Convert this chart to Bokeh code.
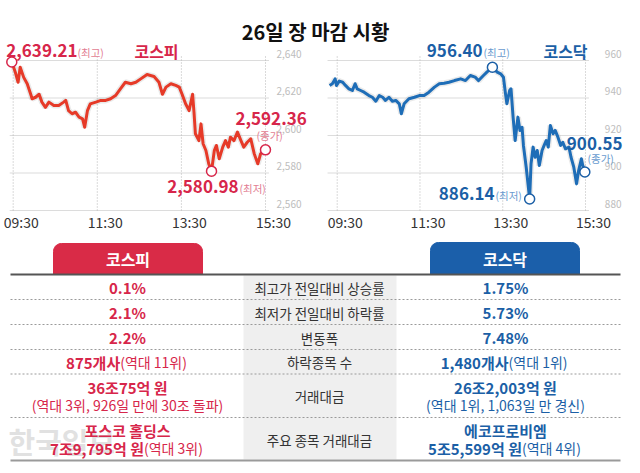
import numpy as np
from bokeh.plotting import figure
from bokeh.models import Range1d
from bokeh.core.properties import value
from bokeh.embed import file_html
from bokeh.resources import INLINE

FONT = "Noto Sans CJK KR"

# ---------------- data ----------------
title_text = "26일 장 마감 시황"
time_ticks = [570, 690, 810, 930]          # minutes after midnight
time_tick_labels = ["09:30", "11:30", "13:30", "15:30"]

kospi_name = "코스피"
kospi_t = [568, 573, 577, 580, 585, 590, 595, 597, 602, 607, 611, 616, 621, 628, 635, 642, 645, 649,
           654, 659, 664, 669, 672, 676, 680, 688, 695, 702, 709, 716, 723, 730, 738, 745, 752, 759,
           761, 771, 778, 783, 788, 795, 802, 807, 811, 816, 821, 826, 828, 830, 835, 838, 841, 845,
           849, 853, 857, 860, 864, 869, 873, 877, 880, 885, 890, 895, 899, 904, 909, 914, 919, 923, 930]
kospi_v = [2639.21, 2633.8, 2628.4, 2636.4, 2631.0, 2627.6, 2622.0, 2619.6, 2620.4, 2622.0, 2617.8,
           2615.0, 2617.8, 2616.0, 2616.0, 2617.8, 2618.7, 2613.3, 2611.6, 2612.4, 2609.8, 2608.9,
           2604.4, 2613.3, 2616.9, 2617.8, 2618.7, 2618.7, 2619.6, 2621.3, 2624.9, 2628.4, 2627.6,
           2628.4, 2630.2, 2632.0, 2632.5, 2631.5, 2628.4, 2622.0, 2625.8, 2627.6, 2626.7, 2625.8,
           2622.0, 2616.9, 2613.3, 2622.0, 2612.4, 2600.9, 2597.3, 2606.2, 2595.6, 2592.0, 2584.9,
           2580.98, 2592.0, 2594.7, 2587.6, 2593.8, 2597.3, 2593.8, 2599.1, 2597.3, 2601.8, 2597.3,
           2593.8, 2596.4, 2598.2, 2590.2, 2584.9, 2590.2, 2592.36]
kospi_yticks = [2560, 2580, 2600, 2620, 2640]

kosdaq_name = "코스닥"
kosdaq_t = [559, 563, 567, 569, 573, 578, 582, 587, 592, 596, 599, 604, 609, 616, 621, 626, 631, 636,
            640, 645, 650, 655, 660, 663, 667, 674, 682, 689, 696, 703, 711, 718, 725, 732, 740, 749,
            756, 763, 770, 775, 782, 787, 795, 802, 807, 811, 814, 816, 820, 822, 825, 828, 832, 835,
            838, 840, 844, 849, 851, 854, 857, 860, 863, 867, 870, 873, 876, 879, 883, 886, 890, 894,
            897, 901, 906, 909, 913, 917, 920, 924, 926, 929]
kosdaq_v = [946.7, 947.6, 950.2, 946.7, 949.0, 948.4, 946.7, 944.9, 944.0, 947.6, 944.9, 944.0, 943.1,
            941.3, 940.4, 938.3, 941.3, 940.4, 938.7, 940.4, 938.3, 938.7, 936.9, 931.6, 936.9, 939.6,
            940.4, 941.3, 941.3, 943.1, 945.8, 947.6, 947.9, 948.4, 949.3, 950.2, 949.3, 952.0, 951.1,
            949.3, 952.0, 953.8, 956.40, 953.8, 952.9, 951.1, 942.2, 936.9, 944.0, 944.9, 929.8, 917.3,
            929.8, 922.7, 924.4, 914.7, 903.1, 886.14, 904.9, 913.8, 908.4, 912.0, 904.0, 912.0, 914.7,
            917.3, 913.8, 925.3, 920.9, 922.7, 919.1, 914.7, 916.4, 912.9, 913.8, 908.4, 903.1, 894.2,
            901.3, 907.6, 904.0, 900.55]
kosdaq_yticks = [880, 900, 920, 940, 960]

mark_suffix = ["(최고)", "(최저)", "(종가)"]

row_labels = ["최고가 전일대비 상승률", "최저가 전일대비 하락률", "변동폭", "하락종목 수",
              "거래대금", "주요 종목 거래대금"]
kospi_rows = [
    [("0.1%", "")],
    [("2.1%", "")],
    [("2.2%", "")],
    [("875개사", "(역대 11위)")],
    [("36조75억 원", ""), ("", "(역대 3위, 926일 만에 30조 돌파)")],
    [("포스코 홀딩스", ""), ("7조9,795억 원", "(역대 3위)")],
]
kosdaq_rows = [
    [("1.75%", "")],
    [("5.73%", "")],
    [("7.48%", "")],
    [("1,480개사", "(역대 1위)")],
    [("26조2,003억 원", ""), ("", "(역대 1위, 1,063일 만 경신)")],
    [("에코프로비엠", ""), ("5조5,599억 원", "(역대 4위)")],
]
watermark = "한국일보"

# ---------------- styles ----------------
KOSPI_LINE = "#e63a28"
KOSPI_LAB = "#d7264a"
KOSPI_SUB = "#e27d92"
KOSPI_TAB = "#d92b47"
KOSDAQ_LINE = "#1e6db7"
KOSDAQ_LAB = "#1b5fa6"
KOSDAQ_SUB = "#6a9bcf"
KOSDAQ_TAB = "#1b5faa"

W, H = 640, 473
CW, CH, CTOP = 320, 195, 42

p = figure(width=W, height=H, x_range=Range1d(0, W), y_range=Range1d(H, 0),
           x_axis_location=None, y_axis_location=None, toolbar_location=None,
           output_backend="svg", min_border=0, min_border_left=0, min_border_right=0,
           min_border_top=0, min_border_bottom=0)
p.grid.visible = False
p.outline_line_color = None
p.background_fill_color = "white"
p.border_fill_color = "white"


def txt(x, y, s, size, color, align="left", bold=False, **kw):
    p.text(x=[x], y=[y], text=[s], text_font=value(FONT), text_font_size=f"{size}px",
           text_color=color, text_align=align, text_baseline="middle",
           text_font_style="bold" if bold else "normal", **kw)


def chart(key, ox, t, v, yticks, name, xr, yr, line_c, lab_c, sub_c, pos):
    x0, x1 = xr
    y0, y1 = yr
    sx = (x1 - x0) / CW
    sy = (y1 - y0) / CH
    xs = x0 - ox * sx
    ytop = y1 + CTOP * sy
    p.extra_x_ranges[key + "_x"] = Range1d(xs, xs + W * sx)
    p.extra_y_ranges[key + "_y"] = Range1d(ytop - H * sy, ytop)
    R = dict(x_range_name=key + "_x", y_range_name=key + "_y")
    X = lambda px: x0 + px * sx
    Y = lambda py: y1 - (py - CTOP) * sy

    def t_(x, y, s, size, color, align="left", bold=False, **kw):
        p.text(x=[x], y=[y], text=[s], text_font=value(FONT), text_font_size=f"{size}px",
               text_color=color, text_align=align, text_baseline="middle",
               text_font_style="bold" if bold else "normal", **R, **kw)

    n = len(yticks)
    step = yticks[1] - yticks[0]
    # horizontal grid lines
    p.segment(x0=[t[0] - 3] * n, y0=yticks, x1=[time_ticks[-1] + 5] * n, y1=yticks,
              line_color="#dcdcdc", line_width=1.2, **R)
    # vertical dotted lines
    p.segment(x0=time_ticks, y0=[yticks[0]] * len(time_ticks), x1=time_ticks,
              y1=[yticks[-1] + step * 0.15] * len(time_ticks),
              line_color="#b5b5b5", line_width=1, line_dash="1 2", **R)
    # y labels
    p.text(x=[time_ticks[-1]] * n, y=yticks, text=[f"{yy:,}" for yy in yticks],
           x_offset=36, y_offset=-7, text_align="right", text_baseline="middle",
           text_font=value(FONT), text_font_size="10px", text_color="#bdbdbd", **R)
    # x labels
    p.text(x=time_ticks, y=[yticks[0]] * len(time_ticks), text=time_tick_labels,
           x_offset=8, y_offset=11, text_align="center", text_baseline="middle",
           text_font=value(FONT), text_font_size="14px", text_color="#333333", **R)
    # line with soft shadow
    p.line(t, v, line_color="#888888", line_alpha=0.18, line_width=6, **R)
    p.line(t, v, line_color=line_c, line_width=3, line_join="round", **R)
    ihi, ilo, icl = int(np.argmax(v)), int(np.argmin(v)), len(v) - 1
    idx = [ihi, ilo, icl]
    p.scatter(x=[t[i] for i in idx], y=[v[i] for i in idx], size=10, fill_color="white",
              line_color=lab_c, line_width=1.5, **R)
    # labels
    for i, suf, (nx, ny, nal, sx_, sy_) in zip(idx, mark_suffix, pos["marks"]):
        t_(X(nx), Y(ny), f"{v[i]:,.2f}", 17, lab_c, align=nal, bold=True)
        t_(X(sx_), Y(sy_), suf, 10.5, sub_c)
    cx, cy = pos["name"]
    t_(X(cx), Y(cy), name, 16, lab_c, align="center", bold=True)


chart("kospi", 0, kospi_t, kospi_v, kospi_yticks, kospi_name, (551.9, 1008.5), (2545.6, 2649.6),
      KOSPI_LINE, KOSPI_LAB, KOSPI_SUB,
      {"marks": [(77, 50, "right", 77, 52), (238, 186, "right", 239, 188),
                 (235, 118, "left", 256, 135)],
       "name": (156, 50)})
chart("kosdaq", 320, kosdaq_t, kosdaq_v, kosdaq_yticks, kosdaq_name, (545.8, 1009.7),
      (865.6, 969.6), KOSDAQ_LINE, KOSDAQ_LAB, KOSDAQ_SUB,
      {"marks": [(162, 50, "right", 163, 52), (174, 193, "right", 175, 195),
                 (302, 143, "right", 267, 158)],
       "name": (245, 50)})

# ---------------- title ----------------
txt(315, 31, title_text, 20, "#111111", align="center", bold=True)


# ---------------- table ----------------
def tab(x0, x1, yt, yb, r, color):
    th = np.linspace(0, np.pi / 2, 10)
    xs = [x0] + list(x0 + r - r * np.cos(th)) + list(x1 - r + r * np.sin(th)) + [x1]
    ys = [yb] + list(yt + r - r * np.sin(th)) + list(yt + r - r * np.cos(th)) + [yb]
    p.patch(xs, ys, fill_color=color, line_color=color)


row_edges = [274, 299, 324, 349, 373.5, 417, 460]
p.quad(left=[243], right=[396], top=[row_edges[0] + 1], bottom=[row_edges[-1] - 1],
       fill_color="#efefef", line_color=None)
txt(8, 440, watermark, 29, "#d9d9d9", bold=True, text_alpha=0.8)
tab(53, 202, 243, 273.5, 8, KOSPI_TAB)
tab(430, 579, 242, 273.5, 8, KOSDAQ_TAB)
txt(127.5, 258.5, kospi_name, 16, "white", align="center", bold=True)
txt(504.5, 258, kosdaq_name, 16, "white", align="center", bold=True)
p.segment(x0=[10], y0=[row_edges[0]], x1=[620], y1=[row_edges[0]], line_color="#555555",
          line_width=2)
mids = row_edges[1:-1]
p.segment(x0=[10] * len(mids), y0=mids, x1=[620] * len(mids), y1=mids, line_color="#9a9a9a",
          line_width=1, line_dash="2 2")
p.segment(x0=[10], y0=[row_edges[-1]], x1=[620], y1=[row_edges[-1]], line_color="#9a9a9a",
          line_width=2)


def est_w(s, size):
    w = 0.0
    for ch in s:
        if '\uac00' <= ch <= '\ud7a3':
            w += 1.0
        elif ch.isdigit():
            w += 0.57
        elif ch in ",.":
            w += 0.28
        elif ch == " ":
            w += 0.22
        elif ch in "()":
            w += 0.33
        elif ch == "%":
            w += 0.87
        else:
            w += 0.5
    return w * size


def cell(cx, yc, lines, col):
    nl = len(lines)
    gap = 17.5
    for k, (b, nt) in enumerate(lines):
        y = yc + (k - (nl - 1) / 2) * gap
        if b and nt:
            wb, wn = est_w(b, 15), est_w(nt, 14)
            join = cx - (wb + wn) / 2 + wb
            txt(join, y, b, 15, col, align="right", bold=True)
            txt(join, y, nt, 14, col, align="left")
        elif b:
            txt(cx, y, b, 15, col, align="center", bold=True)
        else:
            txt(cx, y, nt, 14, col, align="center")


for r_i, lab in enumerate(row_labels):
    yc = (row_edges[r_i] + row_edges[r_i + 1]) / 2 + 0.5
    txt(319, yc, lab, 13.5, "#333333", align="center")
    cell(127, yc, kospi_rows[r_i], KOSPI_LAB)
    cell(505, yc, kosdaq_rows[r_i], KOSDAQ_LAB)

open("out.html", "w").write(file_html(p, INLINE))
